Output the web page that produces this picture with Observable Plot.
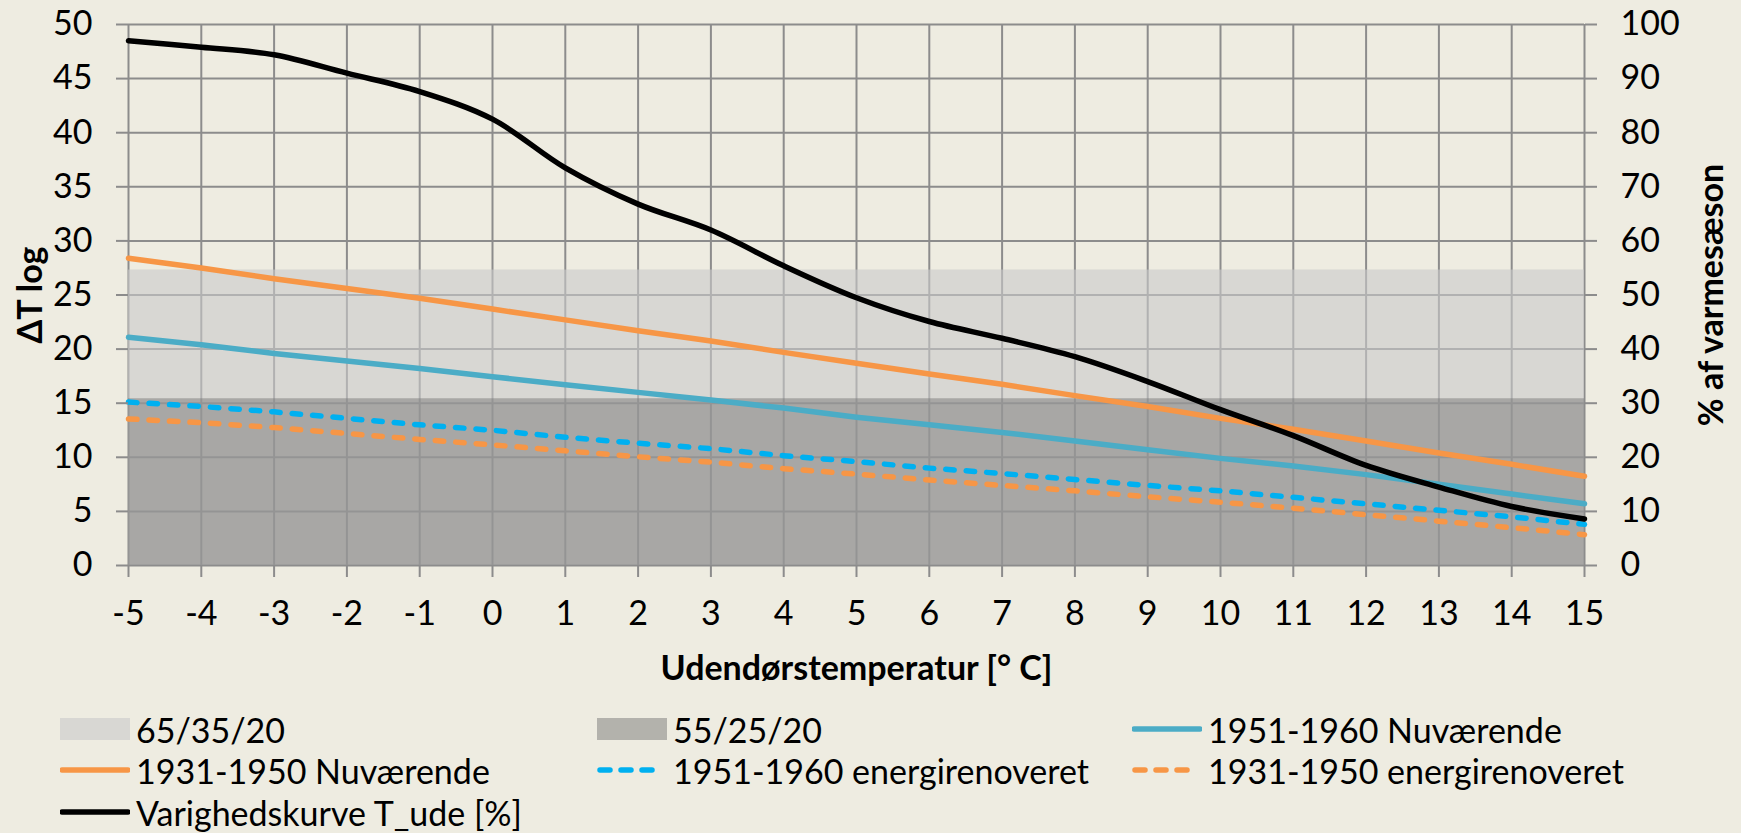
<!DOCTYPE html>
<html><head><meta charset="utf-8">
<script src="https://cdn.jsdelivr.net/npm/d3@7"></script>
<script src="https://cdn.jsdelivr.net/npm/@observablehq/plot@0.6"></script>
<style>
html,body{margin:0;padding:0;background:#EEECE1;}
#wrap{position:relative;width:1741px;height:833px;font-family:Lato,"Open Sans",sans-serif;overflow:hidden;}
#chart{position:absolute;left:0;top:0;}
#legend{position:absolute;left:0;top:700px;width:1741px;height:133px;}
.item{position:absolute;display:flex;align-items:center;height:42px;font-size:34px;color:#000;white-space:nowrap;}
.item svg{display:block;margin-right:6px;}
</style></head><body><div id="wrap"><div id="chart"></div><div id="legend"></div></div>
<script>
// ---- data ----
const temperatures = [-5,-4,-3,-2,-1,0,1,2,3,4,5,6,7,8,9,10,11,12,13,14,15];
const band_65_35_20 = [27.3,27.3,27.3,27.3,27.3,27.3,27.3,27.3,27.3,27.3,27.3,27.3,27.3,27.3,27.3,27.3,27.3,27.3,27.3,27.3,27.3];
const band_55_25_20 = [15.4,15.4,15.4,15.4,15.4,15.4,15.4,15.4,15.4,15.4,15.4,15.4,15.4,15.4,15.4,15.4,15.4,15.4,15.4,15.4,15.4];
const nuv_1951_1960 = [21.1,20.4,19.6,18.9,18.2,17.45,16.7,16.0,15.3,14.55,13.7,13.0,12.3,11.5,10.7,9.9,9.2,8.4,7.5,6.6,5.7];
const nuv_1931_1950 = [28.4,27.5,26.5,25.6,24.7,23.7,22.7,21.7,20.75,19.7,18.7,17.7,16.75,15.7,14.7,13.6,12.6,11.5,10.4,9.35,8.25];
const reno_1951_1960 = [15.1,14.7,14.2,13.6,13.0,12.5,11.85,11.3,10.8,10.15,9.6,9.0,8.5,7.95,7.4,6.9,6.3,5.7,5.1,4.5,3.8];
const reno_1931_1950 = [13.55,13.2,12.75,12.2,11.65,11.15,10.6,10.05,9.55,8.95,8.45,7.9,7.4,6.9,6.35,5.85,5.3,4.7,4.1,3.5,2.85];
const varighed_pct = [97,95.8,94.4,91,87.6,82.5,73.5,66.8,62,55.4,49.5,45.1,42,38.6,34,28.8,24,18.5,14.5,10.9,8.6];
const leftTicks = [0,5,10,15,20,25,30,35,40,45,50];
const rightTickLabels = ["0","10","20","30","40","50","60","70","80","90","100"];
const seriesNames = ["65/35/20","55/25/20","1951-1960 Nuværende","1931-1950 Nuværende","1951-1960 energirenoveret","1931-1950 energirenoveret","Varighedskurve T_ude [%]"];
const xTitle = "Udendørstemperatur [° C]";
const yTitleLeft = "ΔT log";
const yTitleRight = "% af varmesæson";

// ---- styles ----
const C = {
  grid: "#8C8C8C",
  light: "#CACACA", lightOp: 0.6,
  dark: "#787878", darkOp: 0.5,
  orange: "#F79646", teal: "#4BACC6", cyan: "#00B0F0", black: "#000000"
};
const FS = 34;

const rows = temperatures.map((t, i) => ({
  t,
  b65: band_65_35_20[i], b55: band_55_25_20[i],
  n51: nuv_1951_1960[i], n31: nuv_1931_1950[i],
  r51: reno_1951_1960[i], r31: reno_1931_1950[i],
  pct: varighed_pct[i]
}));

const dash = {strokeDasharray: "8.5,12", strokeLinecap: "round"};

const chart = Plot.plot({
  width: 1741, height: 700,
  marginLeft: 128, marginRight: 157, marginTop: 24, marginBottom: 135,
  style: {background: "transparent", fontFamily: "Lato, 'Open Sans', sans-serif", fontSize: FS + "px", color: "#000", overflow: "visible"},
  x: {domain: [-5, 15], axis: null},
  y: {domain: [0, 50], axis: null},
  marks: [
    Plot.gridX(temperatures, {stroke: C.grid, strokeOpacity: 1, strokeWidth: 2}),
    Plot.gridY(leftTicks, {stroke: C.grid, strokeOpacity: 1, strokeWidth: 2}),
    Plot.areaY(rows, {x: "t", y: "b65", fill: C.light, fillOpacity: C.lightOp}),
    Plot.areaY(rows, {x: "t", y: "b55", fill: C.dark, fillOpacity: C.darkOp}),
    Plot.line(rows, {x: "t", y: "n51", stroke: C.teal, strokeWidth: 5.5}),
    Plot.line(rows, {x: "t", y: "n31", stroke: C.orange, strokeWidth: 5.5}),
    Plot.line(rows, {x: "t", y: "r51", stroke: C.cyan, strokeWidth: 5.5, ...dash}),
    Plot.line(rows, {x: "t", y: "r31", stroke: C.orange, strokeWidth: 5.5, ...dash}),
    Plot.line(rows, {x: "t", y: d => d.pct / 2, stroke: C.black, strokeWidth: 5.5, curve: "catmull-rom"}),
    Plot.axisX(temperatures, {anchor: "bottom", tickSize: 12, tickPadding: 23, tickFormat: d => String(d), label: null, color: "#000", stroke: C.grid, strokeWidth: 2}),
    Plot.axisY(leftTicks, {anchor: "left", tickSize: 12, tickPadding: 24, tickFormat: d => String(d), label: null, color: "#000", stroke: C.grid, strokeWidth: 2}),
    Plot.axisY(leftTicks, {anchor: "right", tickSize: 12, tickPadding: 24, tickFormat: (d, i) => rightTickLabels[i], label: null, color: "#000", stroke: C.grid, strokeWidth: 2}),
    Plot.text([yTitleLeft], {frameAnchor: "left", textAnchor: "middle", dx: -97, rotate: -90, fontWeight: "bold", fill: "#000"}),
    Plot.text([yTitleRight], {frameAnchor: "right", textAnchor: "middle", dx: 128, rotate: -90, fontWeight: "bold", fill: "#000"}),
    Plot.text([xTitle], {frameAnchor: "bottom", textAnchor: "middle", dy: 114, fontWeight: "bold", fill: "#000"})
  ]
});
document.getElementById("chart").appendChild(chart);

// ---- legend (HTML below the SVG) ----
const legendSpec = [
  {name: seriesNames[0], kind: "rect", color: C.light, op: C.lightOp, col: 0, row: 0},
  {name: seriesNames[1], kind: "rect", color: C.dark, op: C.darkOp, col: 1, row: 0},
  {name: seriesNames[2], kind: "line", color: C.teal, col: 2, row: 0},
  {name: seriesNames[3], kind: "line", color: C.orange, col: 0, row: 1},
  {name: seriesNames[4], kind: "dash", color: C.cyan, col: 1, row: 1},
  {name: seriesNames[5], kind: "dash", color: C.orange, col: 2, row: 1},
  {name: seriesNames[6], kind: "line", color: C.black, col: 0, row: 2}
];
const colX = [60, 597, 1132];
const rowC = [29, 70, 112];
const legend = document.getElementById("legend");
for (const s of legendSpec) {
  const div = document.createElement("div");
  div.className = "item";
  div.style.left = colX[s.col] + "px";
  div.style.top = (rowC[s.row] - 21) + "px";
  let sw;
  if (s.kind === "rect") {
    sw = `<svg width="70" height="22"><rect x="0" y="0" width="70" height="22" fill="${s.color}" fill-opacity="${s.op}"/></svg>`;
  } else if (s.kind === "line") {
    sw = `<svg width="70" height="22"><line x1="2" x2="68" y1="11" y2="11" stroke="${s.color}" stroke-width="5.5" stroke-linecap="round"/></svg>`;
  } else {
    sw = `<svg width="70" height="22"><line x1="3" x2="64" y1="11" y2="11" stroke="${s.color}" stroke-width="5.5" stroke-linecap="round" stroke-dasharray="10,11"/></svg>`;
  }
  div.innerHTML = sw + `<span>${s.name}</span>`;
  legend.appendChild(div);
}
</script>
</body></html>
